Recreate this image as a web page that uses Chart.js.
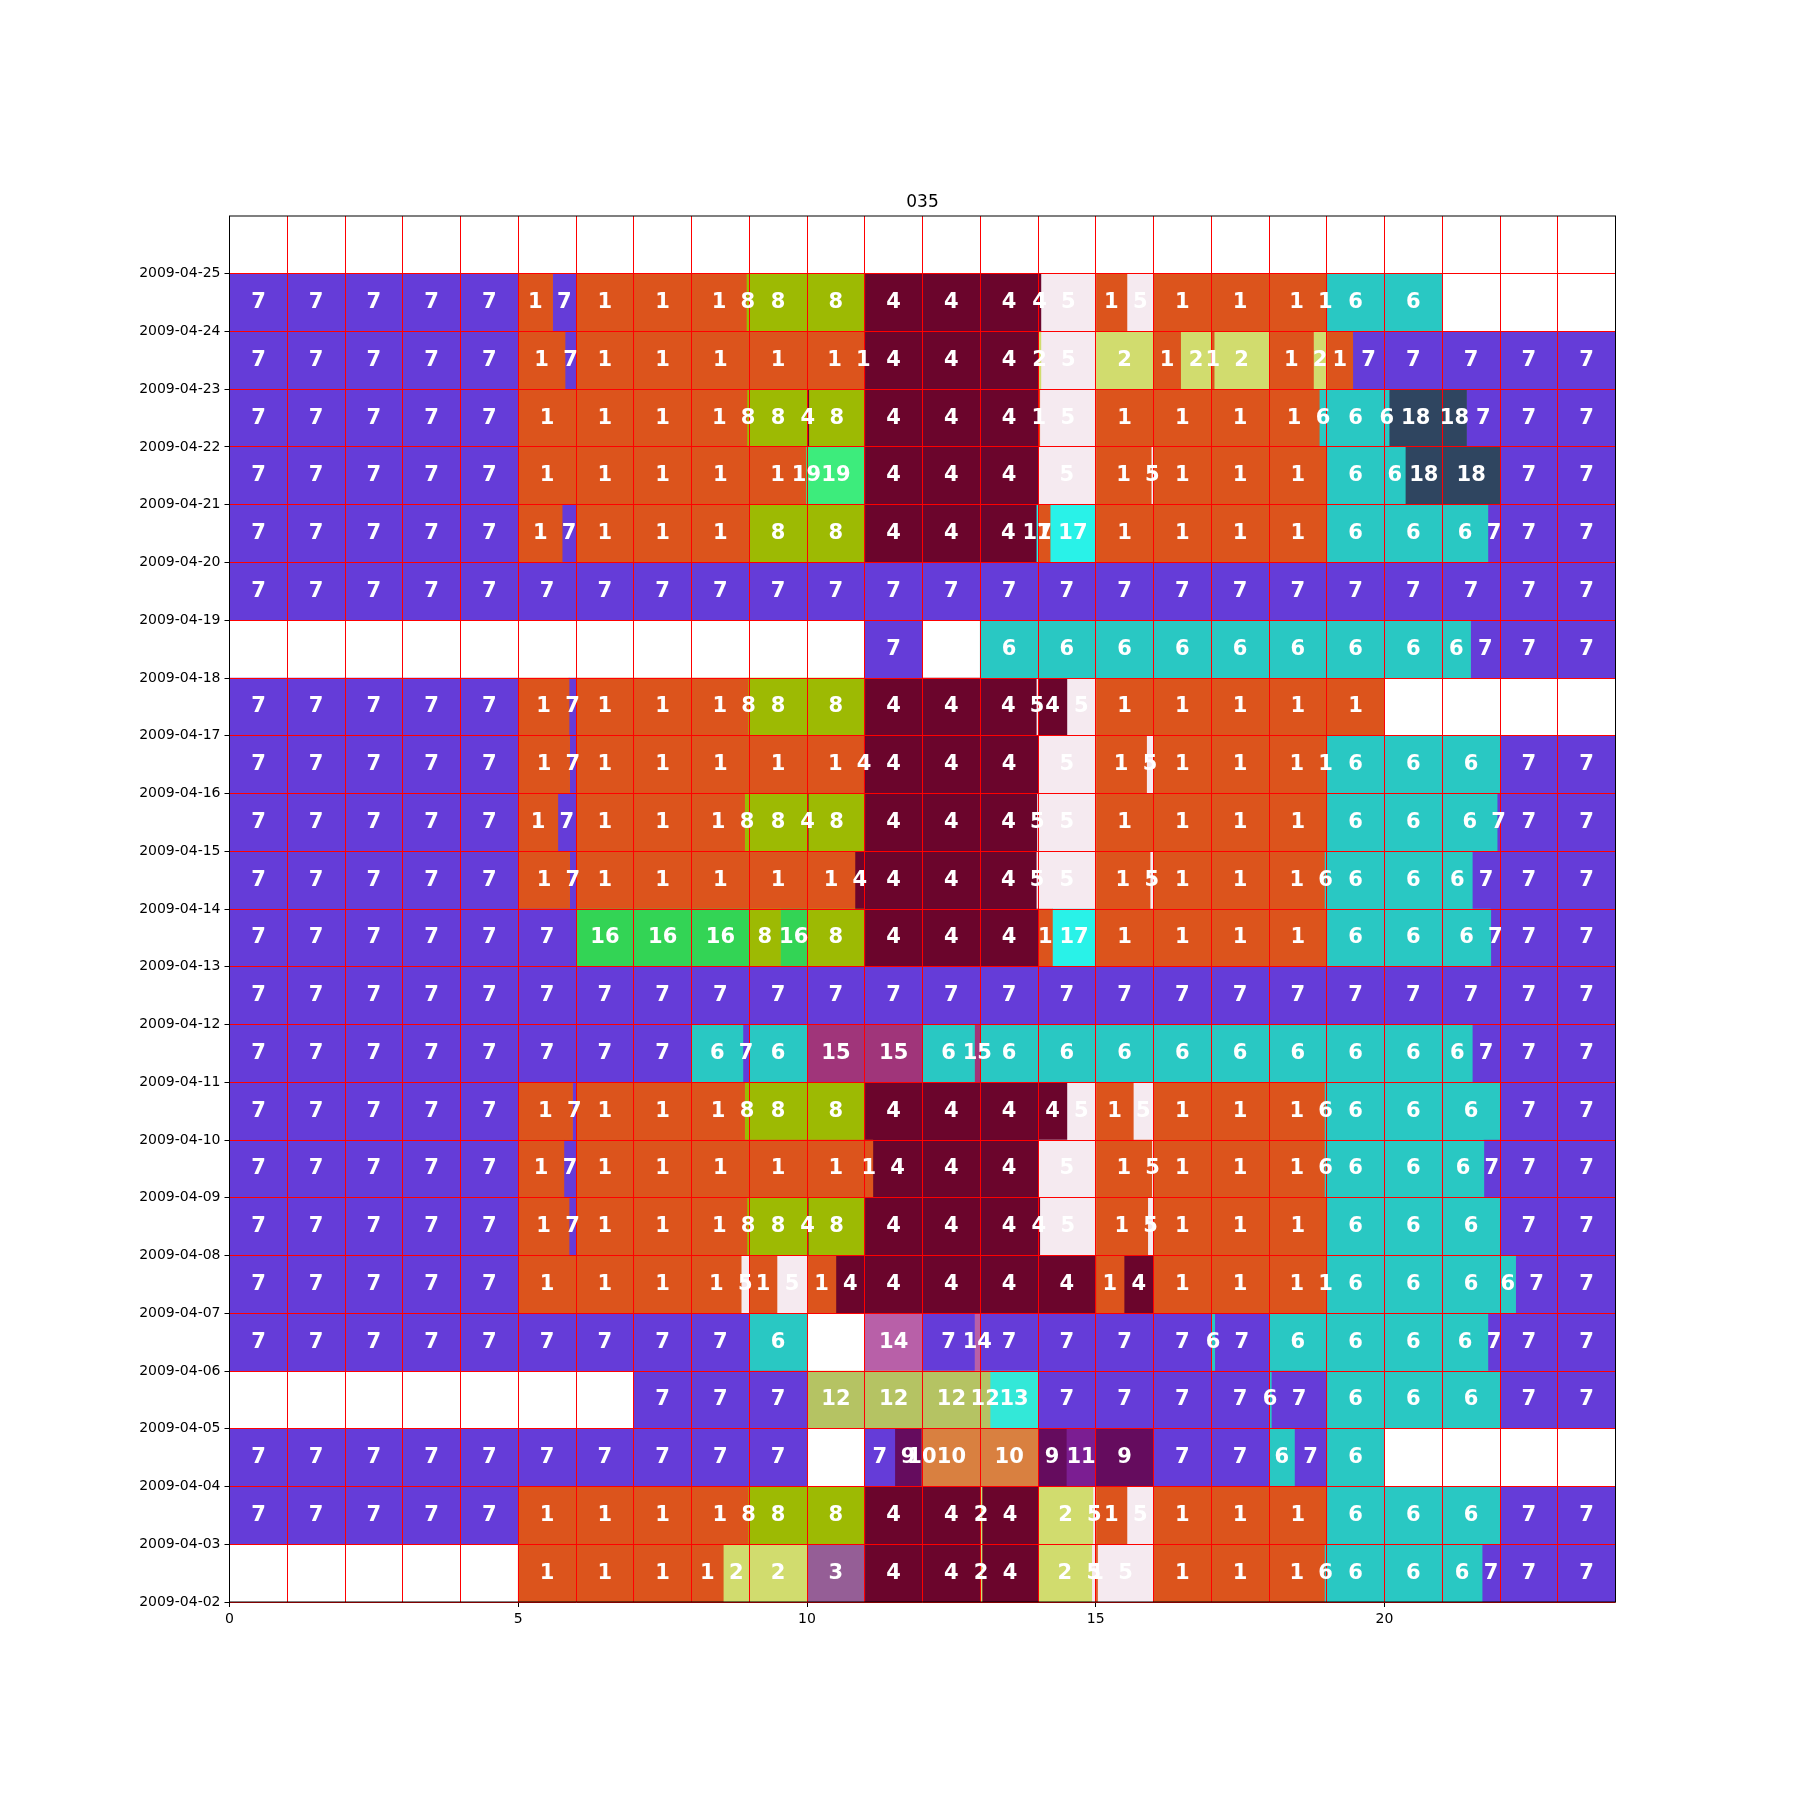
<!DOCTYPE html>
<html lang="es">
<head>
    <meta charset="UTF-8">
    <title>035</title>
    <script src="https://cdn.jsdelivr.net/npm/chart.js"></script>
    <style>
        html, body {
            margin: 0;
            padding: 0;
            background: #fff;
        }
        #grafico {
            display: block;
        }
    </style>
</head>
<body>
    <canvas id="grafico" width="1800" height="1800"></canvas>

    <script>
        // etiquetas del eje y (lineas de dia, desde abajo)
        var dayLabels = ['2009-04-02', '2009-04-03', '2009-04-04', '2009-04-05', '2009-04-06', '2009-04-07',
            '2009-04-08', '2009-04-09', '2009-04-10', '2009-04-11', '2009-04-12', '2009-04-13',
            '2009-04-14', '2009-04-15', '2009-04-16', '2009-04-17', '2009-04-18', '2009-04-19',
            '2009-04-20', '2009-04-21', '2009-04-22', '2009-04-23', '2009-04-24', '2009-04-25'];

        // tramos de cada dia: [hora inicio, hora fin, categoria]
        var s0425 = [];
        var s0424 = [[0,5,7],[5,5.595,1],[5.595,6,7],[6,8.95,1],[8.95,11,8],[11,14.05,4],[14.05,15,5],[15,15.54,1],[15.54,16,5],[16,18.95,1],[18.95,19,1],[19,21,6]];
        var s0423 = [[0,5,7],[5,5.81,1],[5.81,6,7],[6,10.95,1],[10.95,11,1],[11,14,4],[14,14.05,2],[14.05,15,5],[15,16,2],[16,16.47,1],[16.47,17,2],[17,17.05,1],[17.05,18,2],[18,18.77,1],[18.77,19,2],[19,19.45,1],[19.45,24,7]];
        var s0422 = [[0,5,7],[5,8.96,1],[8.96,10,8],[10,10.03,4],[10.03,11,8],[11,14,4],[14,14.03,1],[14.03,15,5],[15,18.87,1],[18.87,20.08,6],[20.08,21.42,18],[21.42,24,7]];
        var s0421 = [[0,5,7],[5,9.98,1],[9.98,11,19],[11,14,4],[14,15,5],[15,15.96,1],[15.96,16,5],[16,19,1],[19,20.36,6],[20.36,22,18],[22,24,7]];
        var s0420 = [[0,5,7],[5,5.76,1],[5.76,6,7],[6,9,1],[9,11,8],[11,13.97,4],[13.97,14,17],[14,14.21,1],[14.21,15,17],[15,19,1],[19,21.79,6],[21.79,24,7]];
        var s0419 = [[0,24,7]];
        var s0418 = [[11,12,7],[13,21.49,6],[21.49,24,7]];
        var s0417 = [[0,5,7],[5,5.88,1],[5.88,6,7],[6,8.98,1],[8.98,11,8],[11,13.97,4],[13.97,14,5],[14,14.5,4],[14.5,15,5],[15,20,1]];
        var s0416 = [[0,5,7],[5,5.89,1],[5.89,6,7],[6,10.98,1],[10.98,14,4],[14,15,5],[15,15.88,1],[15.88,16,5],[16,18.96,1],[18.96,19,1],[19,22,6],[22,24,7]];
        var s0415 = [[0,5,7],[5,5.685,1],[5.685,6,7],[6,8.92,1],[8.92,10,8],[10,10.02,4],[10.02,11,8],[11,13.98,4],[13.98,15,5],[15,19,1],[19,21.95,6],[21.95,24,7]];
        var s0414 = [[0,5,7],[5,5.89,1],[5.89,6,7],[6,10.83,1],[10.83,13.97,4],[13.97,15,5],[15,15.94,1],[15.94,16,5],[16,18.96,1],[18.96,21.52,6],[21.52,24,7]];
        var s0413 = [[0,6,7],[6,9,16],[9,9.54,8],[9.54,10,16],[10,11,8],[11,14,4],[14,14.25,1],[14.25,15,17],[15,19,1],[19,21.84,6],[21.84,24,7]];
        var s0412 = [[0,24,7]];
        var s0411 = [[0,8,7],[8,8.89,6],[8.89,9,7],[9,10,6],[10,12,15],[12,12.9,6],[12.9,13,15],[13,21.52,6],[21.52,24,7]];
        var s0410 = [[0,5,7],[5,5.94,1],[5.94,6,7],[6,8.92,1],[8.92,11,8],[11,14.5,4],[14.5,15,5],[15,15.65,1],[15.65,16,5],[16,18.96,1],[18.96,22,6],[22,24,7]];
        var s0409 = [[0,5,7],[5,5.79,1],[5.79,6,7],[6,11.14,1],[11.14,14,4],[14,15,5],[15,15.97,1],[15.97,16,5],[16,18.96,1],[18.96,21.72,6],[21.72,24,7]];
        var s0408 = [[0,5,7],[5,5.88,1],[5.88,6,7],[6,8.96,1],[8.96,10,8],[10,10.02,4],[10.02,11,8],[11,14.03,4],[14.03,15,5],[15,15.9,1],[15.9,16,5],[16,19,1],[19,22,6],[22,24,7]];
        var s0407 = [[0,5,7],[5,8.86,1],[8.86,9,5],[9,9.48,1],[9.48,10,5],[10,10.5,1],[10.5,15,4],[15,15.49,1],[15.49,16,4],[16,18.96,1],[18.96,19,1],[19,22.27,6],[22.27,24,7]];
        var s0406 = [[0,9,7],[9,10,6],[11,12,14],[12,12.9,7],[12.9,13,14],[13,17,7],[17,17.06,6],[17.06,18,7],[18,21.79,6],[21.79,24,7]];
        var s0405 = [[7,10,7],[10,13.17,12],[13.17,14,13],[14,18,7],[18,18.04,6],[18.04,19,7],[19,22,6],[22,24,7]];
        var s0404 = [[0,10,7],[11,11.52,7],[11.52,11.98,9],[11.98,14,10],[14,14.49,9],[14.49,15,11],[15,16,9],[16,18,7],[18,18.44,6],[18.44,19,7],[19,20,6]];
        var s0403 = [[0,5,7],[5,8.98,1],[8.98,11,8],[11,13,4],[13,13.03,2],[13.03,14,4],[14,14.95,2],[14.95,15,5],[15,15.54,1],[15.54,16,5],[16,19,1],[19,22,6],[22,24,7]];
        var s0402 = [[5,8.55,1],[8.55,10,2],[10,11,3],[11,13,4],[13,13.03,2],[13.03,14,4],[14,14.93,2],[14.93,15,5],[15,15.03,1],[15.03,16,5],[16,18.96,1],[18.96,21.69,6],[21.69,24,7]];

        // filas de arriba hacia abajo
        var rowLabels = ['04-25', '04-24', '04-23', '04-22', '04-21', '04-20', '04-19', '04-18', '04-17', '04-16', '04-15', '04-14',
            '04-13', '04-12', '04-11', '04-10', '04-09', '04-08', '04-07', '04-06', '04-05', '04-04', '04-03', '04-02'];
        var rows = [s0425, s0424, s0423, s0422, s0421, s0420, s0419, s0418, s0417, s0416, s0415, s0414,
            s0413, s0412, s0411, s0410, s0409, s0408, s0407, s0406, s0405, s0404, s0403, s0402];

        var colores = {
            1: '#dc541c', 2: '#d1dc6e', 3: '#955e96', 4: '#6b052c', 5: '#f5eaf0',
            6: '#29c8c3', 7: '#653cd8', 8: '#9dba03', 9: '#650c5e', 10: '#d98040',
            11: '#7b1e92', 12: '#b5c363', 13: '#33e8d8', 14: '#b860a8', 15: '#a0357a',
            16: '#33d455', 17: '#29f2e8', 18: '#2f4560', 19: '#3dec7c'
        };

        // partir cada tramo en las celdas de una hora
        var piezas = rows.map(function (segs) {
            var out = [];
            segs.forEach(function (s) {
                var a = s[0];
                while (a < s[1] - 1e-9) {
                    var b = Math.min(s[1], Math.floor(a + 1e-9) + 1);
                    out.push([a, b, s[2]]);
                    a = b;
                }
            });
            return out;
        });

        var maxPiezas = Math.max.apply(null, piezas.map(function (p) { return p.length; }));
        var datasets = [];
        for (var k = 0; k < maxPiezas; k++) {
            datasets.push({
                data: piezas.map(function (p) { return p[k] ? [p[k][0], p[k][1]] : null; }),
                cats: piezas.map(function (p) { return p[k] ? p[k][2] : null; }),
                backgroundColor: piezas.map(function (p) { return p[k] ? colores[p[k][2]] : 'rgba(0,0,0,0)'; }),
                borderWidth: 0,
                barPercentage: 1,
                categoryPercentage: 1,
                grouped: false
            });
        }

        // numeros blancos en cada pieza
        var etiquetas = {
            id: 'etiquetas',
            afterDraw: function (chart) {
                var ctx = chart.ctx;
                ctx.save();
                ctx.font = 'bold 21px "DejaVu Sans"';
                ctx.fillStyle = '#ffffff';
                ctx.textAlign = 'center';
                ctx.textBaseline = 'middle';
                chart.data.datasets.forEach(function (ds, i) {
                    chart.getDatasetMeta(i).data.forEach(function (bar, j) {
                        if (ds.data[j] == null) return;
                        var p = bar.getCenterPoint();
                        ctx.fillText(String(ds.cats[j]), p.x, p.y);
                    });
                });
                // marco negro
                var a = chart.chartArea;
                ctx.strokeStyle = '#000';
                ctx.lineWidth = 1;
                ctx.strokeRect(a.left, a.top, a.right - a.left, a.bottom - a.top);
                ctx.restore();
            }
        };

        Chart.defaults.font.family = '"DejaVu Sans"';
        Chart.defaults.color = '#000';

        var myChart = new Chart(document.getElementById('grafico').getContext('2d'), {
            type: 'bar',
            data: { labels: rowLabels, datasets: datasets },
            options: {
                indexAxis: 'y',
                responsive: false,
                animation: false,
                devicePixelRatio: 1,
                layout: { padding: { left: 0, right: 184.5, top: 0, bottom: 158 } },
                plugins: {
                    legend: { display: false },
                    tooltip: { enabled: false },
                    title: {
                        display: true,
                        text: '035',
                        fullSize: false,
                        color: '#000',
                        font: { size: 17, weight: 'normal' },
                        padding: { top: 192, bottom: 3.6 }
                    }
                },
                scales: {
                    x: {
                        type: 'linear',
                        min: 0,
                        max: 24,
                        offset: false,
                        afterFit: function (scale) { scale.height = 40; },
                        border: { display: false },
                        grid: {
                            z: 1,
                            offset: false,
                            color: '#ff0000',
                            lineWidth: 1,
                            tickLength: 5,
                            tickColor: function (c) {
                                return (c.tick && c.tick.value % 5 === 0) ? '#000' : 'rgba(0,0,0,0)';
                            }
                        },
                        ticks: {
                            stepSize: 1,
                            autoSkip: false,
                            maxRotation: 0,
                            padding: 4,
                            font: { size: 14 },
                            callback: function (v) {
                                if (v >= 24) return null;
                                return v % 5 === 0 ? String(v) : '';
                            }
                        }
                    },
                    y: {
                        type: 'category',
                        display: false,
                        offset: true
                    },
                    yDate: {
                        type: 'linear',
                        axis: 'y',
                        position: 'left',
                        min: 0,
                        max: 24,
                        offset: false,
                        afterFit: function (scale) { scale.width = 229.5; },
                        border: { display: false },
                        grid: {
                            z: 1,
                            offset: false,
                            color: '#ff0000',
                            lineWidth: 1,
                            tickLength: 5,
                            tickColor: '#000'
                        },
                        ticks: {
                            stepSize: 1,
                            autoSkip: false,
                            padding: 4,
                            font: { size: 14 },
                            callback: function (v) {
                                return v < 24 ? dayLabels[v] : null;
                            }
                        }
                    }
                }
            },
            plugins: [etiquetas]
        });
    </script>
</body>
</html>
